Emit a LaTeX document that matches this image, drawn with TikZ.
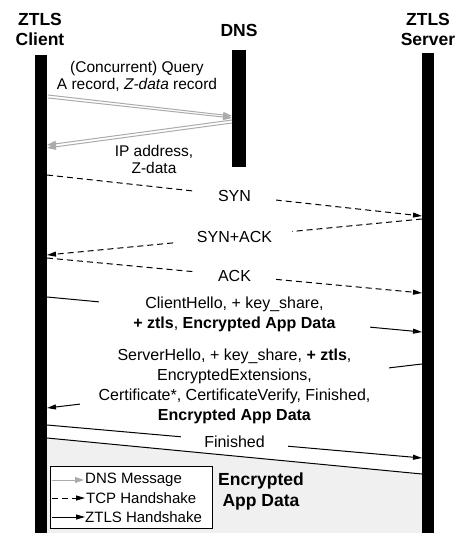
\documentclass[tikz,border=0pt]{standalone}
\usepackage{fontspec}
\setmainfont{Liberation Sans}
\usetikzlibrary{arrows.meta,positioning}

\begin{document}
\begin{tikzpicture}[x=1pt,y=-1pt,
	lifeline/.style={fill=black},
	dnsmsg/.style={draw=black!33, line width=1pt, -{Triangle[length=9pt,width=6pt]}},
	tcpmsg/.style={draw=black, line width=1pt, dash pattern=on 6pt off 4pt, -{Triangle[length=9pt,width=5pt]}},
	ztlsmsg/.style={draw=black, line width=1pt, -{Triangle[length=9pt,width=5pt]}},
	lbl/.style={fill=white, align=center, inner ysep=1pt, font=\fontsize{16}{20}\selectfont},
	dnslbl/.style={align=center, inner sep=0pt, font=\fontsize{15.5}{17}\selectfont},
	head/.style={align=center, inner sep=0pt, font=\bfseries\fontsize{17.5}{20}\selectfont}]
	\useasboundingbox (0,0) rectangle (458,533);

	\node[head] (client) at (40,29) {ZTLS\\Client};
	\node[head] (dns) at (239,30) {DNS};
	\node[head] (server) at (428,29) {ZTLS\\Server};

	\fill[black!6] (47,438) -- (422,474) -- (422,533) -- (47,533) -- cycle;
	\fill[lifeline] (35,55) rectangle (47,533);
	\fill[lifeline] (232,50) rectangle (246,167);
	\fill[lifeline] (422,53) rectangle (434,533);

	\coordinate (q1) at (48,95);  \coordinate (q2) at (232,116);
	\coordinate (q3) at (48,98);  \coordinate (q4) at (232,118);
	\coordinate (r1) at (232,120); \coordinate (r2) at (47,145);
	\coordinate (r3) at (232,123); \coordinate (r4) at (47,148);
	\coordinate (t1) at (47,175);  \coordinate (t2) at (422,216);
	\coordinate (t3) at (422,219); \coordinate (t4) at (47,255);
	\coordinate (t5) at (47,258);  \coordinate (t6) at (422,293);
	\coordinate (h1) at (47,297);  \coordinate (h2) at (422,332);
	\coordinate (h3) at (422,364); \coordinate (h4) at (47,408);
	\coordinate (h5) at (47,425);  \coordinate (h6) at (422,458);
	\coordinate (e1) at (47,438);  \coordinate (e2) at (422,474);

	\draw[dnsmsg] (q1) -- (q2);
	\draw[dnsmsg] (q3) -- (q4);
	\draw[dnsmsg] (r1) -- (r2);
	\draw[dnsmsg] (r3) -- (r4);
	\node[dnslbl] (query) at (137,76) {(Concurrent) Query\\A record, \textit{Z-data} record};
	\node[dnslbl] (answer) at (154,159) {IP address,\\Z-data};

	\draw[tcpmsg] (t1) -- node[lbl, minimum width=83] (syn) {SYN} (t2);
	\draw[tcpmsg] (t3) -- node[lbl, minimum width=115] (synack) {SYN+ACK} (t4);
	\draw[tcpmsg] (t5) -- node[lbl, minimum width=83] (ack) {ACK} (t6);

	\draw[ztlsmsg] (h1) -- node[lbl, minimum width=271] (chello)
		{ClientHello, + key\_share,\\\textbf{+ ztls}, \textbf{Encrypted App Data}} (h2);
	\draw[ztlsmsg] (h3) -- node[lbl, minimum width=309] (shello)
		{ServerHello, + key\_share, \textbf{+ ztls},\\EncryptedExtensions,\\Certificate*, CertificateVerify, Finished,\\\textbf{Encrypted App Data}} (h4);
	\draw[ztlsmsg] (h5) -- node[lbl, minimum width=107] (fin) {Finished} (h6);
	\draw[line width=1pt] (e1) -- (e2);

	\node[font=\bfseries\fontsize{17.5}{21}\selectfont, align=center] (appdata) at (261,491) {Encrypted\\App Data};

	\node[draw, fill=white, line width=0.8pt, minimum width=162, minimum height=62, anchor=north west] (legend) at (50,466) {};
	\coordinate (l1) at (52,480); \coordinate (l2) at (84,480);
	\coordinate (l3) at (52,498); \coordinate (l4) at (85,498);
	\coordinate (l5) at (52,517); \coordinate (l6) at (85,517);
	\draw[dnsmsg] (l1) -- (l2);
	\draw[tcpmsg] (l3) -- (l4);
	\draw[ztlsmsg] (l5) -- (l6);
	\node[anchor=west, inner sep=1pt, font=\fontsize{15}{17}\selectfont] (ldns) at (l2) {DNS Message};
	\node[anchor=west, inner sep=1pt, font=\fontsize{15}{17}\selectfont] (ltcp) at (l4) {TCP Handshake};
	\node[anchor=west, inner sep=0pt, font=\fontsize{15}{17}\selectfont] (lztls) at (l6) {ZTLS Handshake};
\end{tikzpicture}
\end{document}
